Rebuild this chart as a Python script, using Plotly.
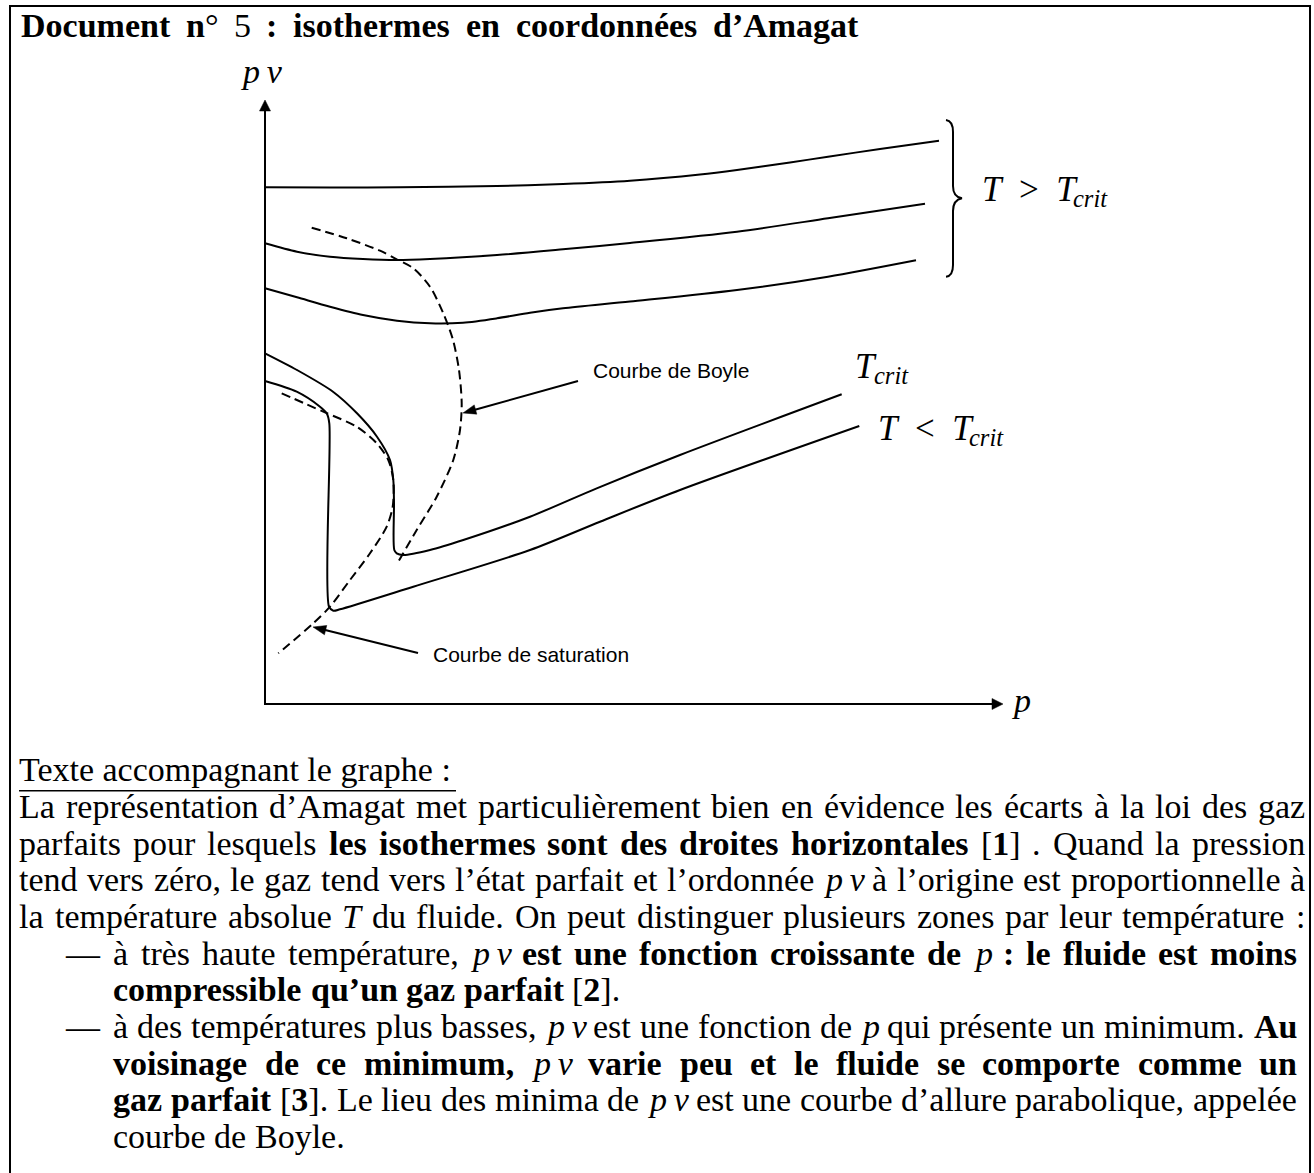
import re
import math
import unicodedata
import plotly.graph_objects as go

# ---------------- data (p, pv in picture units, origin at the axes corner)
p_T1 = [0, 65, 135, 232, 298, 365, 435, 472, 525, 563, 615, 674]
pv_T1 = [517.7, 517.5, 517.7, 519, 521, 524.3, 530.5, 535, 542.5, 548.3, 556, 564.3]

p_T2 = [0, 32, 65, 98, 132, 165, 232, 298, 365, 472, 563, 660]
pv_T2 = [461.7, 453.3, 448.3, 446, 445, 446, 450, 455.7, 462, 473.3, 486.7, 501.3]

p_T3 = [0, 32, 65, 98, 132, 165, 198, 232, 265, 298, 365, 472, 563, 651]
pv_T3 = [416.7, 407.7, 398.3, 390, 384.3, 381.7, 382.3, 386.7, 392.3, 396.7, 403.5, 415, 428.3, 444.7]

p_Tcrit = [0, 32, 68, 92, 112, 125, 128.3, 129, 129.3, 131.7, 138.3, 165, 198.3, 265, 331.7, 415, 576.7]
pv_Tcrit = [351.7, 335, 313.3, 291.7, 268.3, 245, 225, 202, 155, 151.7, 150, 155, 165, 188.3, 216.7, 250, 310.7]

p_Tlow = [0, 31.7, 55, 61.7, 64.3, 64, 68.3, 75, 148.3, 265, 335, 415, 594.3]
pv_Tlow = [324, 313.3, 298.3, 291.7, 281.7, 98.3, 94.3, 95.7, 118.3, 155, 183.3, 215, 279]

p_sat = [16.7, 58.3, 91.7, 111.7, 123.3, 128.3, 127.7, 121.7, 105, 85, 65, 48.3, 13.3]
pv_sat = [311.7, 293.3, 278.3, 261.7, 245, 225, 198.3, 178.3, 151.7, 125, 98.3, 81.7, 51.7]

p_boyle = [46.7, 81.7, 115, 131.7, 148.3, 165, 178.3, 188, 194, 196.7, 195, 188.3, 171.7, 151.7, 133.3]
pv_boyle = [477.3, 466.7, 454.3, 445.7, 436.7, 418.3, 391.7, 365, 335, 301.7, 275, 245, 208.3, 175, 143.3]

TITLE = "<b>Document</b> <b>n</b>° 5 <b>:</b> <b>isothermes</b> <b>en</b> <b>coordonnées</b> <b>d’Amagat</b>"
SUBTITLE = "Texte accompagnant le graphe :"
PV = "<i>p\u2009v</i>"
BODY_LINES = [
    "La représentation d’Amagat met particulièrement bien en évidence les écarts à la loi des gaz",
    "parfaits pour lesquels <b>les isothermes sont des droites horizontales</b> [<b>1</b>] . Quand la pression",
    "tend vers zéro, le gaz tend vers l’état parfait et l’ordonnée " + PV + " à l’origine est proportionnelle à",
    "la température absolue <i>T</i> du fluide. On peut distinguer plusieurs zones par leur température :",
    "à très haute température, " + PV + " <b>est une fonction croissante de</b> <i>p</i> <b>: le fluide est moins</b>",
    "<b>compressible qu’un gaz parfait</b> [<b>2</b>].",
    "à des températures plus basses, " + PV + " est une fonction de <i>p</i> qui présente un minimum. <b>Au</b>",
    "<b>voisinage de ce minimum,</b> " + PV + " <b>varie peu et le fluide se comporte comme un</b>",
    "<b>gaz parfait</b> [<b>3</b>]. Le lieu des minima de " + PV + " est une courbe d’allure parabolique, appelée",
    "courbe de Boyle.",
]

# ---------------- layout helpers (picture pixel -> axis units)
OX, OY = 265, 705
def X(px):
    return px - OX
def Y(py):
    return OY - py

SERIF = "Liberation Serif"
SANS = "Liberation Sans"
ASC_SERIF = 0.891
ASC_SANS = 0.905
INK = "black"

REG = dict(zip("abcdefghijklmnopqrstuvwxyz",
               [444, 500, 444, 500, 444, 333, 500, 500, 278, 278, 500, 278, 778, 500, 500, 500, 500, 333, 389, 278, 500, 500, 722, 500, 500, 444]))
REG.update(zip("ABCDEFGHIJKLMNOPQRSTUVWXYZ",
               [722, 667, 667, 722, 611, 556, 722, 722, 333, 389, 722, 611, 889, 722, 722, 556, 722, 667, 556, 611, 722, 722, 944, 722, 722, 611]))
REG.update({" ": 250, ",": 250, ".": 250, ":": 278, ";": 278, "[": 333, "]": 333, "’": 333,
            "—": 1000, "°": 400, "\u2009": 200})
for d in "0123456789":
    REG[d] = 500
BOLD = dict(REG)
BOLD.update(zip("abcdefghijklmnopqrstuvwxyz",
                [500, 556, 444, 556, 444, 333, 500, 556, 278, 333, 556, 278, 833, 556, 500, 556, 556, 444, 389, 333, 556, 500, 722, 500, 500, 444]))
BOLD.update(zip("ABCDEFGHIJKLMNOPQRSTUVWXYZ",
                [722, 667, 722, 722, 667, 611, 778, 778, 389, 500, 778, 667, 944, 722, 778, 611, 778, 722, 556, 667, 722, 722, 1000, 722, 722, 667]))
BOLD.update({":": 333, ";": 333})
ITAL = dict(REG)
ITAL.update({"p": 500, "v": 444, "T": 556})


def charw(c, b, i):
    base = unicodedata.normalize("NFD", c)[0]
    table = BOLD if b else (ITAL if i else REG)
    return table.get(base, 500)


def parse_words(markup):
    words = [[]]
    b = i = False
    for tok in re.split(r"(</?[bi]>)", markup):
        if tok == "<b>":
            b = True
        elif tok == "</b>":
            b = False
        elif tok == "<i>":
            i = True
        elif tok == "</i>":
            i = False
        else:
            parts = tok.split(" ")
            for k, part in enumerate(parts):
                if k > 0:
                    words.append([])
                if part:
                    words[-1].append((part, b, i))
    return [w for w in words if w]


def word_markup(w):
    out = ""
    for t, b, i in w:
        s = t
        if i:
            s = "<i>" + s + "</i>"
        if b:
            s = "<b>" + s + "</b>"
        out += s
    return out


def word_width(w, size):
    return sum(charw(c, b, i) for t, b, i in w for c in t) * size / 1000.0


annotations = []
shapes = []


def text_at(x_px, base_px, text, size, family=SERIF, asc=ASC_SERIF, xanchor="left"):
    annotations.append(dict(
        x=X(x_px), y=Y(base_px - asc * size), xref="x", yref="y", text=text,
        showarrow=False, xanchor=xanchor, yanchor="top", borderpad=0, borderwidth=0,
        font=dict(family=family, size=size, color=INK)))


def justified(markup, x0, x1, base_px, size, justify=True):
    ws = parse_words(markup)
    widths = [word_width(w, size) for w in ws]
    if justify and len(ws) > 1:
        gap = (x1 - x0 - sum(widths)) / (len(ws) - 1)
    else:
        gap = 0.25 * size
    x = x0
    for w, wd in zip(ws, widths):
        text_at(x, base_px, word_markup(w), size)
        x += wd + gap


def arrow(tail, tip, length=11.0, half=5.5, width=2):
    dx, dy = tip[0] - tail[0], tip[1] - tail[1]
    n = math.hypot(dx, dy)
    ux, uy = dx / n, dy / n
    bx, by = tip[0] - ux * length, tip[1] - uy * length
    px_, py_ = -uy, ux
    shapes.append(dict(type="line", xref="x", yref="y",
                       x0=X(tail[0]), y0=Y(tail[1]), x1=X(bx + ux * 1.5), y1=Y(by + uy * 1.5),
                       line=dict(color="black", width=width)))
    pts = [(tip[0], tip[1]), (bx + px_ * half, by + py_ * half), (bx - px_ * half, by - py_ * half)]
    path = "M{:.2f},{:.2f} L{:.2f},{:.2f} L{:.2f},{:.2f} Z".format(
        X(pts[0][0]), Y(pts[0][1]), X(pts[1][0]), Y(pts[1][1]), X(pts[2][0]), Y(pts[2][1]))
    shapes.append(dict(type="path", xref="x", yref="y", path=path,
                       fillcolor="black", line=dict(color="black", width=0.5)))


# ---------------- figure
fig = go.Figure()
solid = dict(color="black", width=2, shape="spline", smoothing=0.8)
dashed = dict(color="black", width=2, shape="spline", smoothing=0.8, dash="9px,5px")
for p, pv, ln in [(p_T1, pv_T1, solid), (p_T2, pv_T2, solid), (p_T3, pv_T3, solid),
                  (p_Tcrit, pv_Tcrit, solid), (p_Tlow, pv_Tlow, solid),
                  (p_sat, pv_sat, dashed), (p_boyle, pv_boyle, dashed)]:
    fig.add_trace(go.Scatter(x=p, y=pv, mode="lines", line=ln, hoverinfo="skip", showlegend=False))

# axes with arrows
arrow((265, 705), (265, 100), 11, 5.5)
arrow((264, 704), (1003, 704), 11, 5.5)
# pointer arrows
arrow((578, 381), (463, 413), 13, 4.8)
arrow((418, 653), (313, 627), 13, 4.8)

# graph labels (subscripts placed as their own smaller text)
text_at(241, 83, PV, 34)
text_at(1012, 712, "<i>p</i>", 34)
text_at(982, 201, "<i>T</i>\u2002&gt;\u2002<i>T</i>", 35)
text_at(1073, 207, "<i>crit</i>", 24.5)
text_at(855, 378, "<i>T</i>", 35)
text_at(874, 384, "<i>crit</i>", 24.5)
text_at(878, 440, "<i>T</i>\u2002&lt;\u2002<i>T</i>", 35)
text_at(969, 446, "<i>crit</i>", 24.5)
text_at(593, 378, "Courbe de Boyle", 21, SANS, ASC_SANS)
text_at(433, 661.5, "Courbe de saturation", 21, SANS, ASC_SANS)

# title and text
justified(TITLE, 20.7, 858, 37.3, 34)
text_at(19.3, 781.7, SUBTITLE, 34)
base0 = 818.3
step = 36.67
configs = [  # (x0, x1, justify, dash)
    (19.3, 1305, True, False),
    (19.3, 1305, True, False),
    (19.3, 1305, True, False),
    (19.3, 1305, True, False),
    (113.3, 1297, True, True),
    (113.3, 1297, False, False),
    (113.3, 1297, True, True),
    (113.3, 1297, True, False),
    (113.3, 1297, True, False),
    (113.3, 1297, False, False),
]
for k, (line, (x0, x1, jus, dash)) in enumerate(zip(BODY_LINES, configs)):
    base = base0 + k * step
    if dash:
        text_at(65, base, "—", 34)
    justified(line, x0, x1, base, 34, jus)

# brace
bp = [(946, 120), (953, 121), (953, 132), (953, 186), (953, 197), (962, 198.3),
      (953, 200), (953, 211), (953, 265), (953, 276), (946, 276.7)]
q = [(X(a), Y(b)) for a, b in bp]
brace = ("M{0[0]},{0[1]} Q{1[0]},{1[1]} {2[0]},{2[1]} L{3[0]},{3[1]} Q{4[0]},{4[1]} {5[0]},{5[1]} "
         "Q{6[0]},{6[1]} {7[0]},{7[1]} L{8[0]},{8[1]} Q{9[0]},{9[1]} {10[0]},{10[1]}").format(*q)

shapes += [
    dict(type="rect", xref="x", yref="y", x0=X(10), x1=X(1310), y0=Y(6), y1=Y(1210),
         line=dict(color="black", width=2), fillcolor="rgba(0,0,0,0)"),
    dict(type="line", xref="x", yref="y", x0=X(19), x1=X(456), y0=Y(790.7), y1=Y(790.7),
         line=dict(color="black", width=1.6)),
    dict(type="path", xref="x", yref="y", path=brace, line=dict(color="black", width=2)),
]

fig.update_layout(
    width=1314, height=1173, autosize=False,
    margin=dict(l=0, r=0, t=0, b=0, pad=0),
    paper_bgcolor="white", plot_bgcolor="white",
    xaxis=dict(range=[-265, 1049], visible=False, fixedrange=True),
    yaxis=dict(range=[-468, 705], visible=False, fixedrange=True),
    showlegend=False,
    annotations=annotations,
    shapes=shapes,
)

fig.write_html("out.html", config={"displayModeBar": False},
               post_script="document.body.style.margin='0px';document.body.style.overflow='hidden';")
